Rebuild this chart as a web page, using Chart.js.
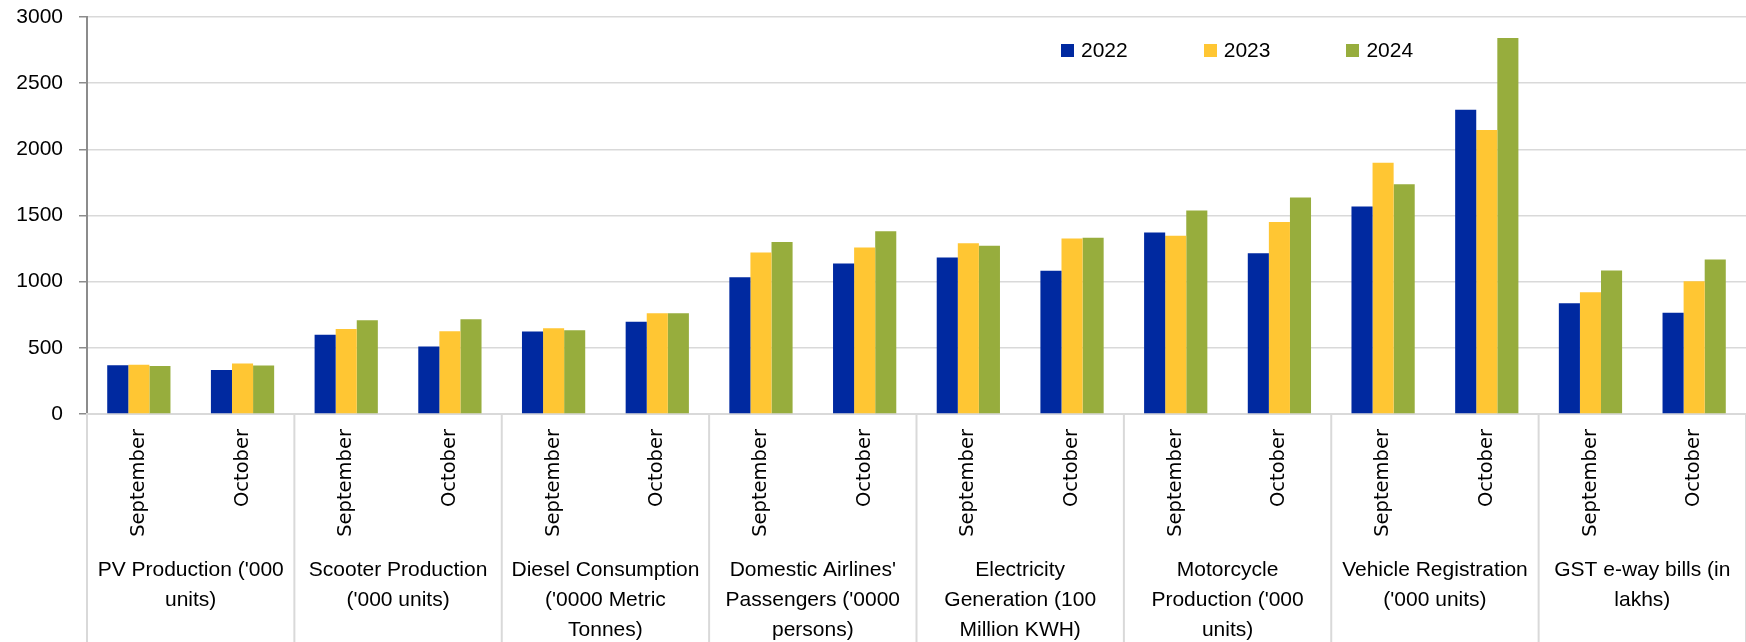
<!DOCTYPE html>
<html>
<head>
<meta charset="utf-8">
<script src="https://cdn.jsdelivr.net/npm/chart.js@4.4.1/dist/chart.umd.min.js"></script>
<style>
  body { margin: 0; background: #ffffff; }
  #wrap { position: relative; width: 1746px; height: 642px; }
  #legend {
    position: absolute; left: 1061px; top: 38px;
    display: flex; align-items: center;
    font-family: "Liberation Sans", Arial, sans-serif; font-size: 21px; color: #000;
  }
  .legend-item { display: flex; align-items: center; margin-right: 76px; }
  .legend-box { width: 13px; height: 13px; margin-right: 7px; }
</style>
</head>
<body>
<div id="wrap">
  <canvas id="chart" width="1746" height="642"></canvas>
  <div id="legend"></div>
</div>
<script>
const months = ['September', 'October'];
const groups = [
  ["PV Production ('000", "units)"],
  ["Scooter Production", "('000 units)"],
  ["Diesel Consumption", "('0000 Metric", "Tonnes)"],
  ["Domestic Airlines'", "Passengers ('0000", "persons)"],
  ["Electricity", "Generation (100", "Million KWH)"],
  ["Motorcycle", "Production ('000", "units)"],
  ["Vehicle Registration", "('000 units)"],
  ["GST e-way bills (in", "lakhs)"]
];
const years = ['2022', '2023', '2024'];
const colors = ['#0029a0', '#ffc633', '#97ad3d'];

// values per category, Sep/Oct pairs for each indicator
const values2022 = [369, 332, 598, 510, 623, 698, 1033, 1138, 1183, 1083, 1372, 1214, 1568, 2299, 837, 766];
const values2023 = [372, 382, 643, 626, 648, 761, 1221, 1259, 1291, 1327, 1347, 1452, 1899, 2146, 920, 1003];
const values2024 = [362, 367, 709, 716, 633, 761, 1299, 1382, 1271, 1332, 1538, 1636, 1736, 2842, 1085, 1168];

const yTicks = [0, 500, 1000, 1500, 2000, 2500, 3000];

const labels = [];
groups.forEach(() => months.forEach(m => labels.push(m)));
const seriesValues = [values2022, values2023, values2024];

// vertical separators between indicator groups, below the x axis
const groupLines = {
  id: 'groupLines',
  afterDraw(chart) {
    const xs = chart.scales.x;
    const ctx = chart.ctx;
    const n = groups.length;
    ctx.save();
    ctx.strokeStyle = '#d9d9d9';
    ctx.lineWidth = 2;
    for (let i = 0; i <= n; i++) {
      let x;
      if (i === 0) x = xs.left;
      else if (i === n) x = xs.right;
      else x = (xs.getPixelForValue(2 * i - 1) + xs.getPixelForValue(2 * i)) / 2;
      ctx.beginPath();
      ctx.moveTo(x, chart.chartArea.bottom);
      ctx.lineTo(x, chart.height);
      ctx.stroke();
    }
    ctx.restore();
  }
};

const ctx = document.getElementById('chart').getContext('2d');
const chart = new Chart(ctx, {
  type: 'bar',
  data: {
    labels: labels,
    datasets: years.map((y, i) => ({
      label: y,
      data: seriesValues[i],
      backgroundColor: colors[i],
      borderWidth: 0,
      categoryPercentage: 0.61,
      barPercentage: 1
    }))
  },
  options: {
    responsive: false,
    animation: false,
    layout: { padding: 0 },
    plugins: {
      legend: { display: false },
      tooltip: { enabled: false }
    },
    scales: {
      y: {
        min: 0,
        max: 3000,
        afterBuildTicks: axis => { axis.ticks = yTicks.map(v => ({ value: v })); },
        afterFit: axis => { axis.width = 87; },
        grid: { color: '#d9d9d9', lineWidth: 1.5, tickLength: 8, tickColor: '#8c8c8c' },
        border: { color: '#8c8c8c', width: 2 },
        ticks: {
          color: '#000',
          padding: 16,
          callback: v => String(v),
          // small lineHeight keeps the top padding close to the original
          font: { family: '"Liberation Sans", Arial, sans-serif', size: 21, lineHeight: 0.1 }
        }
      },
      x: {
        weight: 0,
        offset: true,
        afterFit: axis => { axis.height = 141; },
        grid: { display: false },
        border: { color: '#d9d9d9', width: 2 },
        ticks: {
          autoSkip: false,
          minRotation: 90,
          maxRotation: 90,
          padding: 7,
          color: '#000',
          font: { family: 'DejaVu Sans', size: 19.5 }
        }
      },
      group: {
        type: 'category',
        position: 'bottom',
        weight: 1,
        labels: groups,
        offset: true,
        afterFit: axis => { axis.height = 87; },
        grid: { display: false, drawTicks: false },
        border: { display: false },
        ticks: {
          autoSkip: false,
          minRotation: 0,
          maxRotation: 0,
          padding: 0,
          color: '#000',
          font: { family: '"Liberation Sans", Arial, sans-serif', size: 21, lineHeight: 1.43 }
        }
      }
    }
  },
  plugins: [groupLines]
});

// legend drawn as html over the plot, like the original
const legend = document.getElementById('legend');
chart.data.datasets.forEach(ds => {
  const item = document.createElement('div');
  item.className = 'legend-item';
  const box = document.createElement('span');
  box.className = 'legend-box';
  box.style.background = ds.backgroundColor;
  const text = document.createElement('span');
  text.textContent = ds.label;
  item.appendChild(box);
  item.appendChild(text);
  legend.appendChild(item);
});
</script>
</body>
</html>
